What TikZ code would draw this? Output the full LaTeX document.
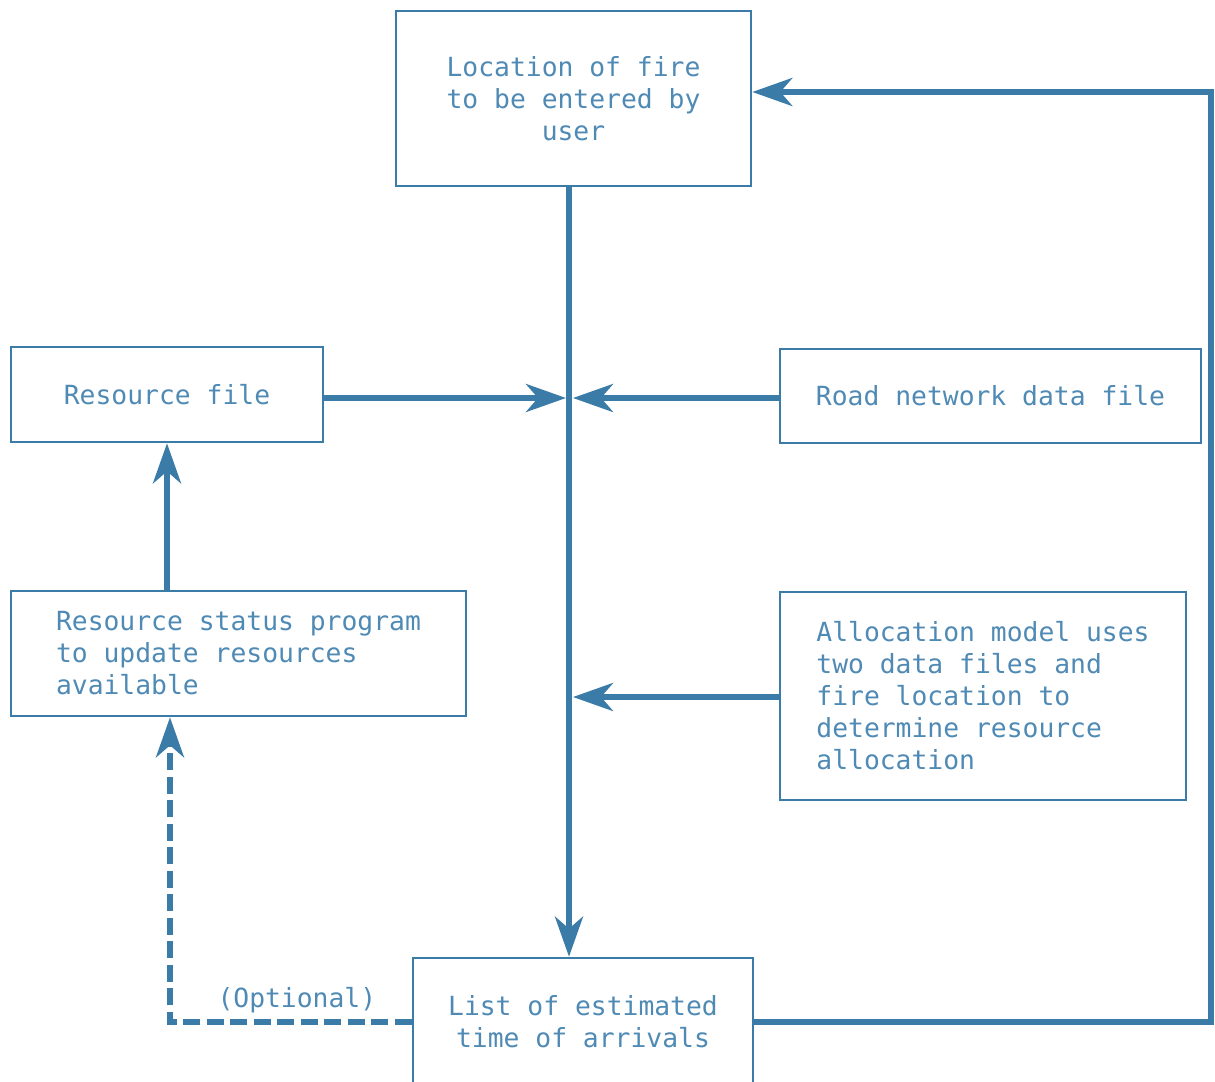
\documentclass[tikz,border=0pt]{standalone}
\usepackage{fontspec}
\newfontfamily\plotfont{DejaVu Sans Mono}
\usetikzlibrary{calc}
\usetikzlibrary{arrows.meta}
\definecolor{plotblue}{HTML}{3B7BA8}
\definecolor{plottext}{HTML}{4F8AB5}
\begin{document}
\begin{tikzpicture}[x=0.02cm, y=-0.02cm,
  box/.style={draw=plotblue, line width=1.5pt, text=plottext, align=center, inner sep=0pt,
    font=\plotfont\fontsize{15}{18.2}\selectfont},
  flow/.style={plotblue, line width=3.2pt, -{Stealth[length=0.8cm, width=0.56cm, inset=0.24cm]}},
  optflow/.style={flow, dash pattern=on 0.34cm off 0.13cm}]
\useasboundingbox (0,0) rectangle (1215,1082);
\clip (0,0) rectangle (1215,1082);

\node[box, minimum width=7.1cm, minimum height=3.5cm] (loc) at (573.5,98.5) {Location of fire\\to be entered by\\user};
\node[box, minimum width=6.24cm, minimum height=1.9cm] (res) at (167,394.5) {Resource file};
\node[box, minimum width=8.42cm, minimum height=1.88cm] (road) at (990.5,396) {Road network data file};
\node[box, align=left, minimum width=9.1cm, minimum height=2.5cm] (status) at (238.5,653.5) {Resource status program\\to update resources\\available};
\node[box, align=left, minimum width=8.12cm, minimum height=4.16cm] (alloc) at (983,696) {Allocation model uses\\two data files and\\fire location to\\determine resource\\allocation};
\node[box, minimum width=6.8cm, minimum height=2.56cm] (list) at (583,1022) {List of estimated\\time of arrivals};

\coordinate (spine) at (569,0);
\coordinate (hubW) at (566,398);
\coordinate (hubE) at (573,398);
\coordinate (hubA) at (573,697);
\coordinate (back) at (1211,92);
\coordinate (opt) at (170,1022);

\draw[flow] (loc.south -| spine) -- (list.north -| spine);
\draw[flow] (res.east |- hubW) -- (hubW);
\draw[flow] (road.west |- hubE) -- (hubE);
\draw[flow] (alloc.west |- hubA) -- (hubA);
\draw[flow] (status.north -| res) -- (res.south);
\draw[flow] (list.east) -| (back) -- (back -| loc.east);
\draw[optflow] (list.west) -- (opt) node[midway, above, xshift=0.12cm, text=plottext, font=\plotfont\fontsize{15}{18.2}\selectfont] {(Optional)} -- (opt |- status.south);
\end{tikzpicture}
\end{document}
